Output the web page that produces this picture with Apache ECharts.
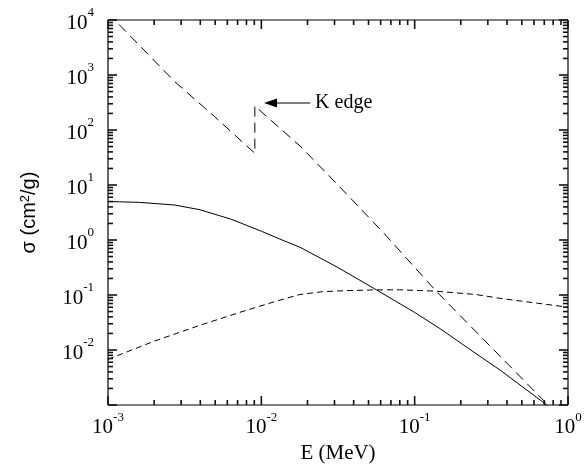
<!DOCTYPE html>
<html><head><meta charset="utf-8">
<script src="https://cdn.jsdelivr.net/npm/echarts@6/dist/echarts.min.js"></script>
<style>html,body{margin:0;padding:0;background:#fff}#c{width:586px;height:469px}</style>
</head><body><div id="c"></div>
<script>
// Photoelectric (long dashes), with K edge near 8.9 keV
const photoE = [0.001, 0.00119, 0.00272, 0.00496, 0.00907, 0.00907, 0.0179, 0.0316, 0.0631, 0.139, 0.316, 0.741, 0.8];
const photoS = [13500, 8100, 760, 175, 37.7, 273, 51, 10, 1.32, 0.115, 0.0112, 0.001, 0.00081];
// Coherent (solid)
const cohE = [0.001, 0.001585, 0.00272, 0.00398, 0.00637, 0.01, 0.0132, 0.0179, 0.0316, 0.0566, 0.1, 0.1466, 0.224, 0.36, 0.728, 0.794];
const cohS = [5.01, 4.84, 4.33, 3.55, 2.38, 1.445, 1.04, 0.736, 0.316, 0.123, 0.0482, 0.0244, 0.0107, 0.00433, 0.001, 0.00083];
// Incoherent (short dashes)
const incE = [0.001, 0.002, 0.00398, 0.00794, 0.0126, 0.0178, 0.0251, 0.0355, 0.0562, 0.0794, 0.139, 0.251, 0.36, 0.631, 1.0];
const incS = [0.00676, 0.01445, 0.0282, 0.0525, 0.0776, 0.102, 0.115, 0.120, 0.124, 0.1245, 0.117, 0.102, 0.087, 0.071, 0.06];
const xTicks = [0.001, 0.01, 0.1, 1];
const yTicks = [0.001, 0.01, 0.1, 1, 10, 100, 1000, 10000];
const arrowFrom = [0.0208, 310];
const arrowTo = [0.01042, 310];
const arrowText = 'K edge';

const zip = (a, b) => a.map((v, i) => [v, b[i]]);
function minorValues(majors) {
  const out = [];
  for (let i = 0; i < majors.length - 1; i++) for (let m = 2; m <= 9; m++) out.push(majors[i] * m);
  return out;
}
const xMinor = minorValues(xTicks);
const yMinor = minorValues(yTicks);
function powLabel(v) {
  const e = Math.round(Math.log10(v));
  return '{b|10}{s|' + e + '}';
}
const isTick = (arr, v) => arr.some(t => Math.abs(t - v) / t < 1e-6);
const rich = () => ({
  b: {fontFamily: 'Liberation Serif', fontSize: 21, color: '#000', padding: [6, 0, 0, 0]},
  s: {fontFamily: 'Liberation Serif', fontSize: 13, color: '#000', verticalAlign: 'top', padding: [0, 0, 6, 0]}
});
const seg = (x1, y1, x2, y2, w) => ({type: 'line', shape: {x1: x1, y1: y1, x2: x2, y2: y2},
  style: {stroke: '#000', lineWidth: w || 1.2}});
// tick as a small filled bar
const vbar = (x, y, len) => ({type: 'rect', shape: {x: x - 0.8, y: Math.min(y, y + len), width: 1.6, height: Math.abs(len)},
  style: {fill: '#111'}});
const hbar = (x, y, len) => ({type: 'rect', shape: {x: Math.min(x, x + len), y: y - 0.8, width: Math.abs(len), height: 1.6},
  style: {fill: '#111'}});

function renderFrame(params, api) {
  const cs = params.coordSys;
  const L = cs.x, T = cs.y, R = cs.x + cs.width, B = cs.y + cs.height;
  const kids = [seg(L, B, R, B, 1.2), seg(L, T, L, B, 1.2), seg(L, T, R, T, 1.2), seg(R, T, R, B, 1.2)];
  xTicks.forEach(v => { const x = api.coord([v, 1])[0];
    kids.push(vbar(x, B, -9), vbar(x, T, 9)); });
  xMinor.forEach(v => { const x = api.coord([v, 1])[0];
    kids.push(vbar(x, B, -5), vbar(x, T, 5)); });
  yTicks.forEach(v => { const y = api.coord([0.01, v])[1];
    kids.push(hbar(L, y, 9), hbar(R, y, -9)); });
  yMinor.forEach(v => { const y = api.coord([0.01, v])[1];
    kids.push(hbar(L, y, 5), hbar(R, y, -5)); });
  return {type: 'group', children: kids};
}
function renderArrow(params, api) {
  const p1 = api.coord(arrowTo), p2 = api.coord(arrowFrom);
  return {type: 'group', children: [
    seg(p1[0] + 10, p1[1], p2[0], p2[1], 1.2),
    {type: 'polygon', shape: {points: [[p1[0], p1[1]], [p1[0] + 13, p1[1] - 4.5], [p1[0] + 13, p1[1] + 4.5]]},
      style: {fill: '#000'}},
    {type: 'text', x: p2[0] + 5, y: p2[1], style: {text: arrowText, fill: '#000',
      font: '20px "Liberation Serif"', verticalAlign: 'middle', align: 'left'}}
  ]};
}
const chart = echarts.init(document.getElementById('c'));
chart.setOption({
  animation: false,
  grid: {left: 108, right: 18, top: 20, bottom: 63},
  xAxis: {type: 'log', min: 0.001, max: 1,
    axisLine: {show: false}, axisTick: {show: false}, splitLine: {show: false},
    name: 'E (MeV)', nameLocation: 'middle', nameGap: 38,
    nameTextStyle: {fontFamily: 'Liberation Serif', fontSize: 21, color: '#000'},
    axisLabel: {show: true, formatter: v => isTick(xTicks, v) ? powLabel(v) : '', rich: rich(), margin: 6}},
  yAxis: {type: 'log', min: 0.001, max: 10000,
    axisLine: {show: false}, axisTick: {show: false}, splitLine: {show: false},
    name: '{n|\u03C3 (cm}{s|2}{n|/g)}', nameLocation: 'middle', nameGap: 68, nameRotate: 90,
    nameTextStyle: {rich: {
      n: {fontFamily: 'Liberation Sans', fontSize: 20, color: '#000'},
      s: {fontFamily: 'Liberation Sans', fontSize: 13, color: '#000', verticalAlign: 'top', padding: [0, 0, 8, 0]}}},
    axisLabel: {show: true, formatter: v => (isTick(yTicks, v) && v > 0.0015) ? powLabel(v) : '', rich: rich(), margin: 14}},
  series: [
    {type: 'line', data: zip(photoE, photoS), showSymbol: false,
      lineStyle: {color: '#000', width: 1, type: [10, 6]}},
    {type: 'line', data: zip(cohE, cohS), showSymbol: false,
      lineStyle: {color: '#000', width: 1, type: 'solid'}},
    {type: 'line', data: zip(incE, incS), showSymbol: false,
      lineStyle: {color: '#000', width: 1, type: [6, 4]}},
    {type: 'custom', silent: true, clip: false, data: [[0.01, 1]], renderItem: renderFrame, z: 5},
    {type: 'custom', silent: true, data: [arrowTo], renderItem: renderArrow, z: 5}
  ]
});
</script></body></html>
